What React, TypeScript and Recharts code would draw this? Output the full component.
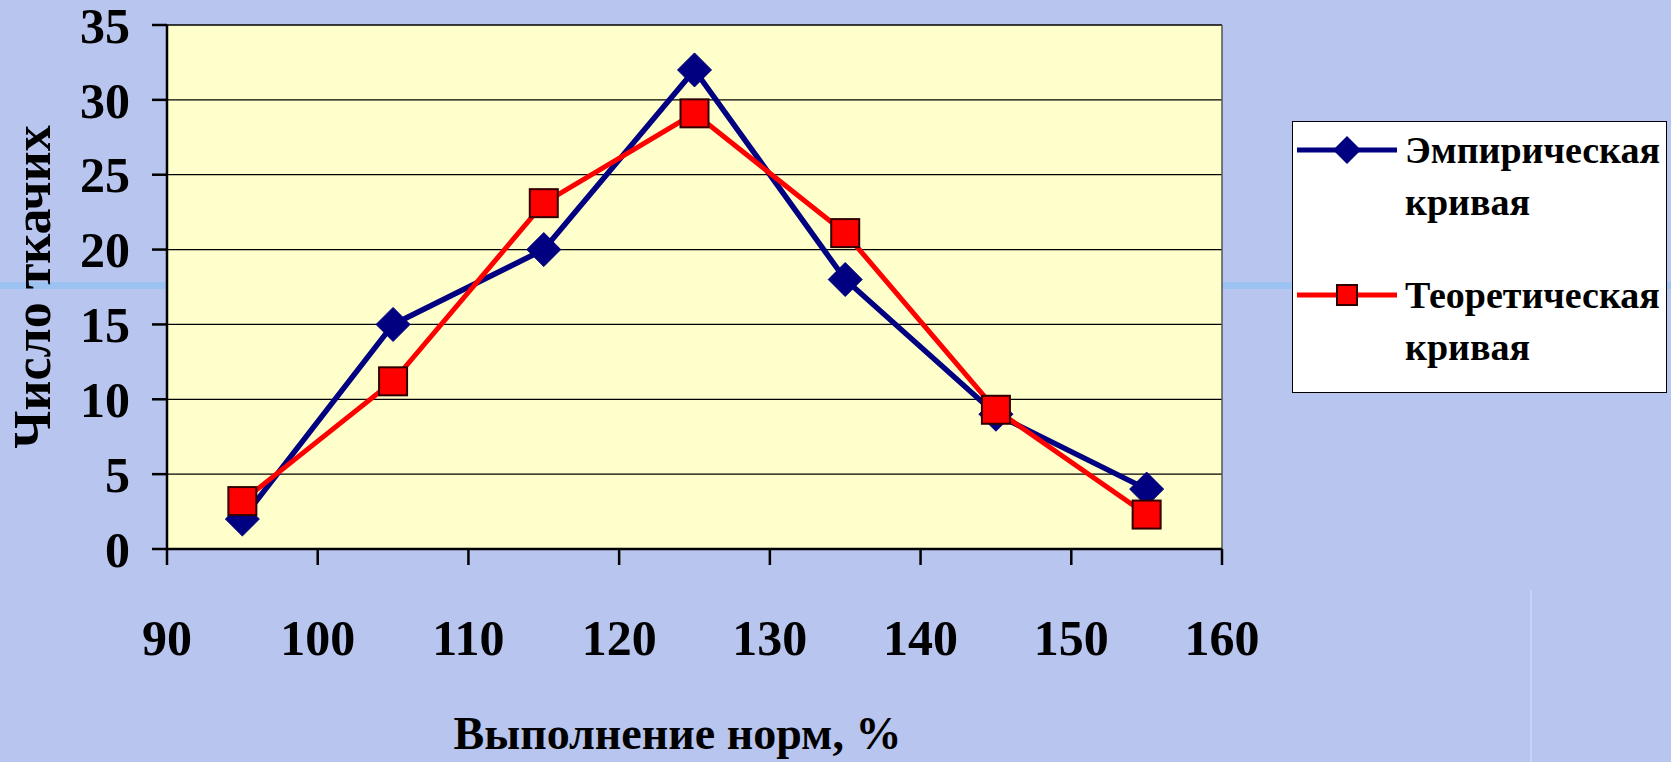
import React from 'react';
import { LineChart, Line, XAxis, YAxis, CartesianGrid, ReferenceLine, Label } from 'recharts';

const FONT = "'Liberation Serif', 'Times New Roman', serif";

const xValues = [95, 105, 115, 125, 135, 145, 155];
const empirical = [2, 15, 20, 32, 18, 9, 4];
const theoretical = [3.2, 11.2, 23.1, 29.1, 21.1, 9.3, 2.3];
const xTicks = [90, 100, 110, 120, 130, 140, 150, 160];
const yTicks = [0, 5, 10, 15, 20, 25, 30, 35];
const seriesNames = ['Эмпирическая кривая', 'Теоретическая кривая'];
const xTitle = 'Выполнение норм, %';
const yTitle = 'Число ткачих';

const BLUE = '#000080';
const RED = '#ff0000';

const data = xValues.map((x, i) => ({ x, emp: empirical[i], theor: theoretical[i] }));

const diamondPath = (cx: number, cy: number, r: number) =>
  `M${cx},${cy - r}L${cx + r},${cy}L${cx},${cy + r}L${cx - r},${cy}Z`;

const renderDiamond = (p: any) => {
  if (p.cx == null || p.cy == null) return <g key={p.index} />;
  return <path key={p.index} d={diamondPath(p.cx, p.cy, 17)} fill={BLUE} stroke={BLUE} strokeWidth={1} />;
};

const renderSquare = (p: any) => {
  if (p.cx == null || p.cy == null) return <g key={p.index} />;
  const s = 28;
  return <rect key={p.index} x={p.cx - s / 2} y={p.cy - s / 2} width={s} height={s} fill={RED} stroke="#300000" strokeWidth={2} />;
};

const legendItems = [
  { name: seriesNames[0], color: BLUE, marker: 'diamond' },
  { name: seriesNames[1], color: RED, marker: 'square' },
];

const LegendBox = () => (
  <div
    style={{
      position: 'absolute',
      left: 1292,
      top: 121,
      width: 375,
      height: 272,
      background: '#fff',
      border: '1.5px solid #000',
      boxSizing: 'border-box',
      fontFamily: FONT,
      fontWeight: 'bold',
      fontSize: 38,
      color: '#000',
      paddingTop: 2,
    }}
  >
    {legendItems.map((item, i) => (
      <div key={i} style={{ display: 'flex', alignItems: 'flex-start', marginBottom: i === 0 ? 41 : 0 }}>
        <svg width={112} height={52} style={{ flex: 'none' }}>
          <line x1={4} y1={26} x2={104} y2={26} stroke={item.color} strokeWidth={5} />
          {item.marker === 'diamond' ? (
            <path d={diamondPath(54, 26, 14)} fill={BLUE} />
          ) : (
            <rect x={44} y={16} width={20} height={20} fill={RED} stroke="#300000" strokeWidth={2} />
          )}
        </svg>
        <div style={{ lineHeight: '52px' }}>
          {item.name.split(' ').map((w, j) => (
            <div key={j}>{w}</div>
          ))}
        </div>
      </div>
    ))}
  </div>
);

export default function App() {
  return (
    <div style={{ position: 'absolute', left: 0, top: 0, width: 1671, height: 762, background: '#b8c5ef', overflow: 'hidden' }}>
      <div style={{ position: 'absolute', left: 0, top: 282, width: 1671, height: 7, background: '#9cc2f2' }} />
      <div style={{ position: 'absolute', left: 1530, top: 590, width: 2, height: 172, background: '#c6d2f6' }} />
      <div style={{ position: 'absolute', left: 0, top: 0 }}>
        <LineChart width={1671} height={762} data={data} margin={{ top: 25, right: 449, bottom: 0, left: 0 }}>
          <CartesianGrid vertical={false} fill="#ffffcc" fillOpacity={1} stroke="#000" strokeWidth={1.3} horizontalValues={yTicks} />
          <ReferenceLine x={160} stroke="#555" strokeWidth={1.5} />
          <XAxis
            dataKey="x"
            type="number"
            domain={[90, 160]}
            ticks={xTicks}
            interval={0}
            height={213}
            stroke="#000"
            strokeWidth={2.5}
            tickSize={16}
            tickMargin={54}
            tick={{ fontFamily: FONT, fontWeight: 'bold', fontSize: 50, fill: '#000' }}
          >
            <Label
              content={(p: any) => {
                const vb = p.viewBox;
                return (
                  <text
                    x={vb.x + vb.width / 2 - 17}
                    y={733}
                    textAnchor="middle"
                    dominantBaseline="central"
                    fontFamily={FONT}
                    fontWeight="bold"
                    fontSize={46}
                    fill="#000"
                  >
                    {xTitle}
                  </text>
                );
              }}
            />
          </XAxis>
          <YAxis
            type="number"
            domain={[0, 35]}
            ticks={yTicks}
            interval={0}
            width={167}
            stroke="#000"
            strokeWidth={2.5}
            tickSize={15}
            tickMargin={22}
            tick={{ fontFamily: FONT, fontWeight: 'bold', fontSize: 50, fill: '#000' }}
          >
            <Label
              content={(p: any) => {
                const vb = p.viewBox;
                const cx = vb.x + 32;
                const cy = vb.y + vb.height / 2;
                return (
                  <text
                    x={cx}
                    y={cy}
                    transform={`rotate(-90 ${cx} ${cy})`}
                    textAnchor="middle"
                    dominantBaseline="central"
                    fontFamily={FONT}
                    fontWeight="bold"
                    fontSize={52}
                    fill="#000"
                  >
                    {yTitle}
                  </text>
                );
              }}
            />
          </YAxis>
          <Line
            type="linear"
            dataKey="emp"
            name={seriesNames[0]}
            stroke={BLUE}
            strokeWidth={5.5}
            dot={renderDiamond}
            activeDot={false}
            isAnimationActive={false}
          />
          <Line
            type="linear"
            dataKey="theor"
            name={seriesNames[1]}
            stroke={RED}
            strokeWidth={5}
            dot={renderSquare}
            activeDot={false}
            isAnimationActive={false}
          />
        </LineChart>
      </div>
      <LegendBox />
    </div>
  );
}
